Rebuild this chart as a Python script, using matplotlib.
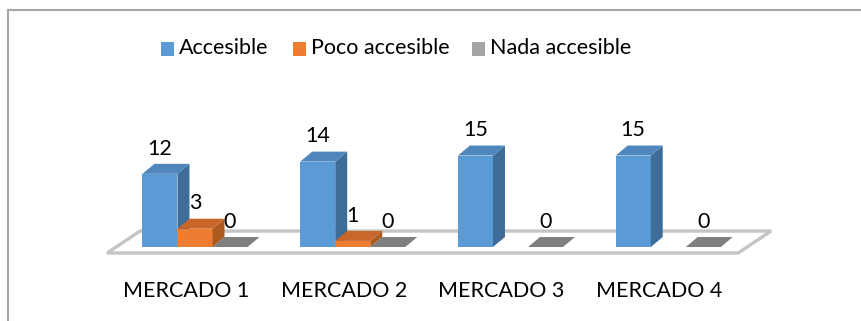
import matplotlib
matplotlib.use("Agg")
import matplotlib.pyplot as plt
from matplotlib.patches import Polygon, Rectangle
from matplotlib.lines import Line2D

plt.rcParams['font.family'] = ['Lato', 'DejaVu Sans']

mercados = ["MERCADO 1", "MERCADO 2", "MERCADO 3", "MERCADO 4"]
series = ["Accesible", "Poco accesible", "Nada accesible"]
accesible = [12, 14, 15, 15]
poco = [3, 1, None, None]  # blank in the source for mercados 3 and 4
nada = [0, 0, 0, 0]
values = [accesible, poco, nada]

# front, top, side colours per series
front_c = ["#5B9BD5", "#ED7D31", "#A5A5A5"]
top_c = ["#4F86BC", "#C9662A", "#7F7F7F"]
side_c = ["#3E6D99", "#AE5A1F", "#6E6E6E"]

fig = plt.figure(figsize=(8.62, 3.21), dpi=100)
ax = fig.add_axes([0, 0, 1, 1])
# x in category units (157.75 px per group), y in value units (6.1 px per unit)
ax.set_xlim(-186 / 157.75, (862 - 186) / 157.75)
ax.set_ylim(-68 / 6.1, 253 / 6.1)
ax.axis("off")

# floor
fdx, fdy = 0.209, 3.6
n = len(mercados)
x0, x1 = -0.5, n - 0.5
floor = Polygon([(x0, 0), (x1, 0), (x1 + fdx, fdy), (x0 + fdx, fdy)], closed=True,
                facecolor="white", edgecolor="#C4C4C4", lw=2.4, zorder=1)
ax.add_patch(floor)

w = 0.222
shift = 0.057
base = 0.98
ddx, ddy = 0.076, 1.64

for j, vals in enumerate(values):
    for i, v in enumerate(vals):
        if v is None:
            continue
        left = i + shift + (j - 1.5) * w
        right = left + w
        top = base + v
        if v > 0:
            ax.add_patch(Polygon([(left, base), (right, base), (right, top), (left, top)],
                                 facecolor=front_c[j], edgecolor="none", zorder=3))
            ax.add_patch(Polygon([(right, base), (right + ddx, base + ddy),
                                  (right + ddx, top + ddy), (right, top)],
                                 facecolor=side_c[j], edgecolor="none", zorder=3))
        ax.add_patch(Polygon([(left, top), (right, top), (right + ddx, top + ddy),
                              (left + ddx, top + ddy)],
                             facecolor=top_c[j] if v > 0 else "#7F7F7F",
                             edgecolor="none", zorder=3))
        ax.text(left + w / 2, top + 2.5, str(v), ha="center", va="bottom",
                fontsize=15.5, color="black", zorder=4)

for i, m in enumerate(mercados):
    ax.text(i, -6.2, m, ha="center", va="center", fontsize=15.5, color="black")

# legend
leg_x = [161, 293, 472]
for j, s in enumerate(series):
    fig.add_artist(Rectangle((leg_x[j] / 862, 1 - 56 / 321), 13 / 862, 14 / 321,
                             transform=fig.transFigure, facecolor=front_c[j],
                             edgecolor="none"))
    fig.text((leg_x[j] + 18) / 862, 1 - 48 / 321, s, ha="left", va="center",
             fontsize=15.5, color="black")

# chart area border (top and left edges visible)
fig.add_artist(Line2D([8 / 862, 1], [1 - 10 / 321, 1 - 10 / 321], color="#A6A6A6",
                      lw=1.5, transform=fig.transFigure))
fig.add_artist(Line2D([8 / 862, 8 / 862], [0, 1 - 10 / 321], color="#A6A6A6",
                      lw=1.5, transform=fig.transFigure))

fig.savefig("out.png", dpi=100)
